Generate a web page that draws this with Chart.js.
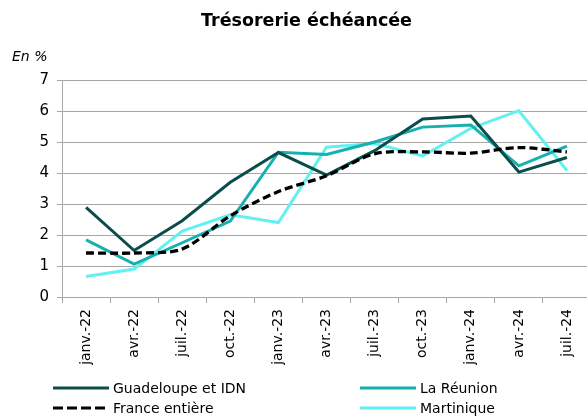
<!DOCTYPE html>
<html>
<head>
<meta charset="utf-8">
<script src="https://cdn.jsdelivr.net/npm/chart.js@4/dist/chart.umd.min.js"></script>
<style>
  html, body { margin: 0; padding: 0; background: #fff; overflow: hidden; width: 587px; height: 416px; }
  #wrap { position: relative; width: 591px; height: 416px; font-family: 'DejaVu Sans', sans-serif; color: #000; }
  #title { position: absolute; left: 0; width: 613px; top: 9px; text-align: center; font-weight: bold; font-size: 17.5px; line-height: 22px; white-space: nowrap; }
  #unit { position: absolute; left: 12px; top: 47px; font-style: italic; font-size: 14px; line-height: 18px; }
  .leg { position: absolute; font-size: 14px; line-height: 18px; white-space: nowrap; display: flex; align-items: center; }
  .leg svg { margin-right: 4px; }
  canvas { position: absolute; left: 0; top: 0; }
</style>
</head>
<body>
<div id="wrap">
  <canvas id="c" width="591" height="416"></canvas>
  <div id="title">Trésorerie échéancée</div>
  <div id="unit">En %</div>
  <div id="legend"></div>
</div>
<script>
const categories = ['janv.-22','avr.-22','juil.-22','oct.-22','janv.-23','avr.-23','juil.-23','oct.-23','janv.-24','avr.-24','juil.-24'];
const guadeloupe = [2.89, 1.50, 2.46, 3.70, 4.66, 3.93, 4.72, 5.74, 5.84, 4.03, 4.50];
const reunion    = [1.84, 1.06, 1.75, 2.45, 4.67, 4.60, 5.00, 5.48, 5.55, 4.23, 4.87];
const france     = [1.42, 1.42, 1.55, 2.62, 3.40, 3.91, 4.62, 4.68, 4.64, 4.82, 4.68];
const martinique = [0.66, 0.90, 2.13, 2.65, 2.40, 4.83, 4.95, 4.55, 5.44, 6.01, 4.08];
const seriesNames = ['Guadeloupe et IDN', 'La Réunion', 'France entière', 'Martinique'];
const yTicks = [0, 1, 2, 3, 4, 5, 6, 7];

const colors = ['#0b4d4b', '#17b0b0', '#000000', '#62f0f0'];
const gridColor = '#a6a6a6';

const datasets = [
  { label: seriesNames[0], data: guadeloupe, borderColor: colors[0], borderWidth: 3, tension: 0, order: 2 },
  { label: seriesNames[1], data: reunion, borderColor: colors[1], borderWidth: 3, tension: 0, order: 3 },
  { label: seriesNames[2], data: france, borderColor: colors[2], borderWidth: 3.3, borderDash: [8, 4], tension: 0.3, order: 1 },
  { label: seriesNames[3], data: martinique, borderColor: colors[3], borderWidth: 3, tension: 0, order: 4 }
].map(d => Object.assign({ pointRadius: 0, pointHoverRadius: 0, fill: false, borderCapStyle: 'butt' }, d));

new Chart(document.getElementById('c'), {
  type: 'line',
  data: { labels: categories, datasets: datasets },
  options: {
    responsive: false,
    animation: false,
    layout: { padding: { top: 80, left: 0, right: 0, bottom: 0 } },
    plugins: { legend: { display: false }, title: { display: false }, tooltip: { enabled: false } },
    scales: {
      x: {
        type: 'category',
        offset: true,
        grid: { display: true, offset: true, drawOnChartArea: false, drawTicks: true, tickLength: 6, color: gridColor, lineWidth: 1 },
        border: { display: true, color: gridColor, width: 1 },
        ticks: { minRotation: 90, maxRotation: 90, autoSkip: false, padding: 6, color: '#000', font: { family: 'DejaVu Sans', size: 14 } },
        afterFit: s => { s.height = 119; }
      },
      y: {
        min: 0, max: 7,
        afterBuildTicks: s => { s.ticks = yTicks.map(v => ({ value: v })); },
        grid: { color: gridColor, lineWidth: 1, tickLength: 5, drawTicks: true },
        border: { display: true, color: gridColor, width: 1 },
        ticks: { padding: 8, color: '#000', font: { family: 'DejaVu Sans', size: 15 } },
        afterFit: s => { s.width = 62; }
      }
    }
  }
});

// HTML legend (2 columns)
const legPos = [
  { left: 53, top: 379 }, { left: 360, top: 379 },
  { left: 53, top: 399 }, { left: 360, top: 399 }
];
const legOrder = [0, 1, 2, 3];
const legend = document.getElementById('legend');
legOrder.forEach((idx, i) => {
  const d = datasets[idx];
  const div = document.createElement('div');
  div.className = 'leg';
  div.style.left = legPos[i].left + 'px';
  div.style.top = legPos[i].top + 'px';
  const dash = d.borderDash ? 'stroke-dasharray="10 4"' : '';
  div.innerHTML = '<svg width="56" height="8"><line x1="0" y1="4" x2="56" y2="4" stroke="' + d.borderColor + '" stroke-width="3" ' + dash + '/></svg><span>' + d.label + '</span>';
  legend.appendChild(div);
});
</script>
</body>
</html>
